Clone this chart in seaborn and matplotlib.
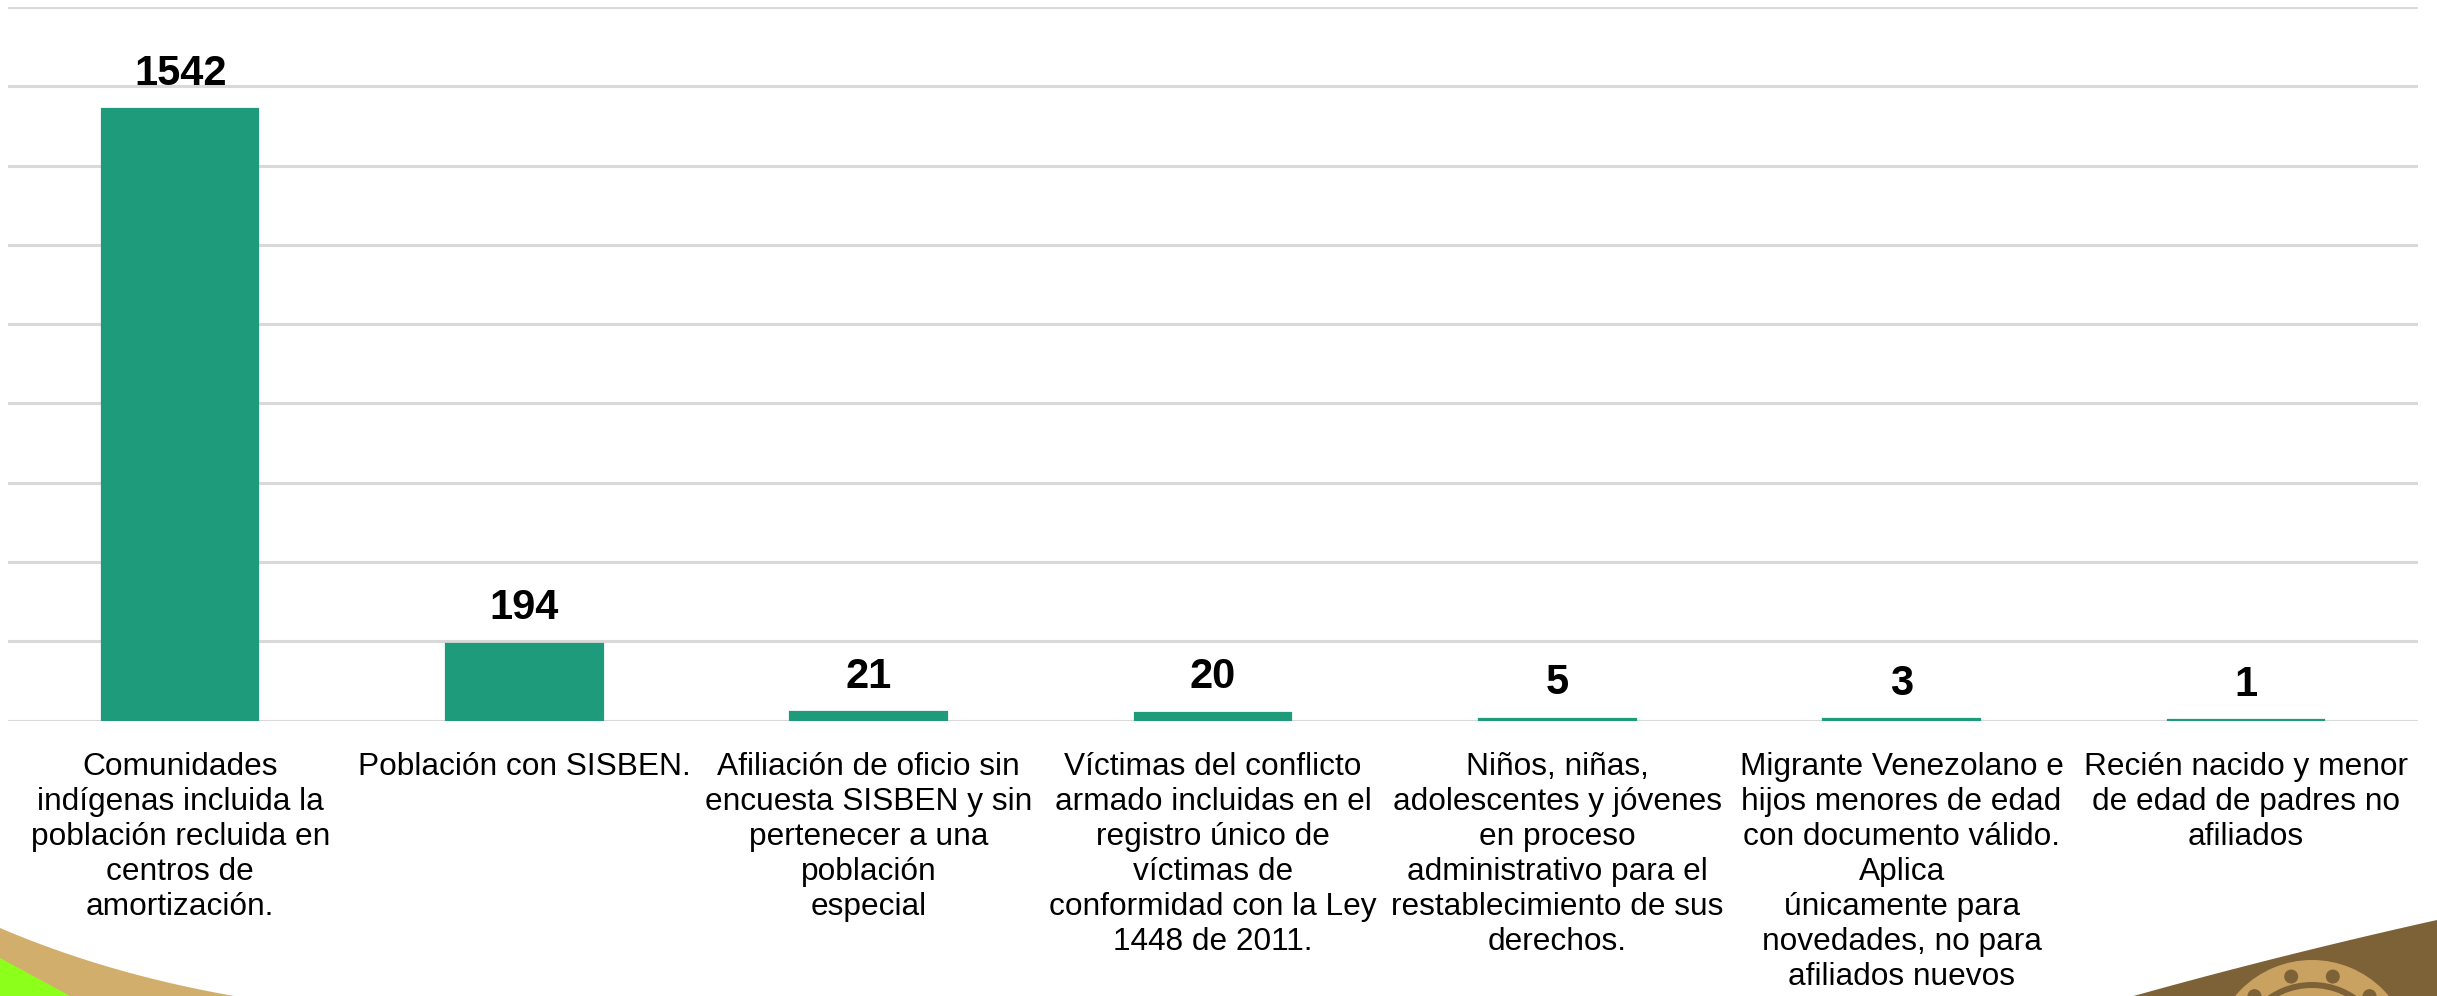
import numpy as np
import pandas as pd
import matplotlib
matplotlib.use("Agg")
import matplotlib.pyplot as plt
import seaborn as sns
from matplotlib.patches import Polygon, Circle, Wedge

categories = [
    "Comunidades\nindígenas incluida la\npoblación recluida en\ncentros de\namortización.",
    "Población con SISBEN.",
    "Afiliación de oficio sin\nencuesta SISBEN y sin\npertenecer a una\npoblación\nespecial",
    "Víctimas del conflicto\narmado incluidas en el\nregistro único de\nvíctimas de\nconformidad con la Ley\n1448 de 2011.",
    "Niños, niñas,\nadolescentes y jóvenes\nen proceso\nadministrativo para el\nrestablecimiento de sus\nderechos.",
    "Migrante Venezolano e\nhijos menores de edad\ncon documento válido.\nAplica\núnicamente para\nnovedades, no para\nafiliados nuevos",
    "Recién nacido y menor\nde edad de padres no\nafiliados",
]
values = [1542, 194, 21, 20, 5, 3, 1]
y_ticks = [0, 200, 400, 600, 800, 1000, 1200, 1400, 1600, 1800]

BAR = "#1E9B7B"
GRID = "#D9D9D9"

sns.set_style("white")
plt.rcParams["font.family"] = ["Liberation Sans", "DejaVu Sans"]

W, H = 2437, 996
fig = plt.figure(figsize=(W / 100, H / 100), dpi=100)
ax = fig.add_axes([8 / W, 1 - 720.5 / H, (2418 - 8) / W, (720.5 - 7) / H])
ax.set_facecolor("none")

df = pd.DataFrame({"cat": categories, "val": values})
sns.barplot(data=df, x="cat", y="val", color=BAR, width=0.455, saturation=1,
            edgecolor=BAR, linewidth=1.6, ax=ax, zorder=3)

ax.set_ylim(0, 1800)
ax.set_xlim(-0.5, len(categories) - 0.5)
ax.set_yticks(y_ticks)
ax.yaxis.grid(True, color=GRID, linewidth=2.2, zorder=0)
ax.set_axisbelow(True)
ax.tick_params(axis="y", left=False, labelleft=False)
ax.tick_params(axis="x", bottom=False, pad=19, labelsize=22.8)
for lbl in ax.get_xticklabels():
    lbl.set_linespacing(1.22)
    lbl.set_color("#000000")
for s in ["top", "right", "left", "bottom"]:
    ax.spines[s].set_visible(False)
ax.set_xlabel("")
ax.set_ylabel("")

for i, v in enumerate(values):
    ax.annotate(str(v), (i, v), xytext=(0, 11), textcoords="offset points",
                ha="center", va="bottom", fontsize=30, fontweight="bold",
                color="#000000")

# decorative corners (figure pixel coords)
def fpx(pts):
    return [(x / W, 1 - y / H) for x, y in pts]

t = np.linspace(0, 1, 40)
tan_curve = [(2 * (1 - s) * s * 110 + s ** 2 * 240,
              (1 - s) ** 2 * 928 + 2 * (1 - s) * s * 975 + s ** 2 * 997) for s in t]
tan_pts = tan_curve + [(0, 997)]
fig.patches.append(Polygon(fpx(tan_pts), closed=True, facecolor="#D2AE6D",
                           edgecolor="none", transform=fig.transFigure, zorder=0))
fig.patches.append(Polygon(fpx([(0, 958), (72, 997), (0, 997)]), closed=True,
                           facecolor="#8CFF1A", edgecolor="none",
                           transform=fig.transFigure, zorder=1))

br_curve = [((1 - s) ** 2 * 2437 + 2 * (1 - s) * s * 2280 + s ** 2 * 2130,
             (1 - s) ** 2 * 920 + 2 * (1 - s) * s * 955 + s ** 2 * 997) for s in t]
br_pts = br_curve + [(2437, 997)]

logo_ax = fig.add_axes([0, 0, 1, 1], zorder=-1)
logo_ax.set_xlim(0, W)
logo_ax.set_ylim(H, 0)
logo_ax.axis("off")
logo_ax.add_patch(Polygon(br_pts, closed=True, facecolor="#7E6237", edgecolor="none"))
clip = Polygon(br_pts, closed=True, transform=logo_ax.transData)
c1 = Wedge((2312, 1060), 100, 0, 360, width=22, facecolor="#C9A262", edgecolor="none")
c2 = Wedge((2312, 1060), 72, 0, 360, width=8, facecolor="#C9A262", edgecolor="none")
for p in (c1, c2):
    logo_ax.add_patch(p)
    p.set_clip_path(clip)
for ang in np.linspace(200, 340, 6):
    r = 86
    x = 2312 + r * np.cos(np.radians(ang))
    y = 1060 + r * np.sin(np.radians(ang))
    d = Circle((x, y), 7, facecolor="#7E6237", edgecolor="none")
    logo_ax.add_patch(d)
    d.set_clip_path(clip)

fig.savefig("out.png", dpi=100, facecolor="white")
